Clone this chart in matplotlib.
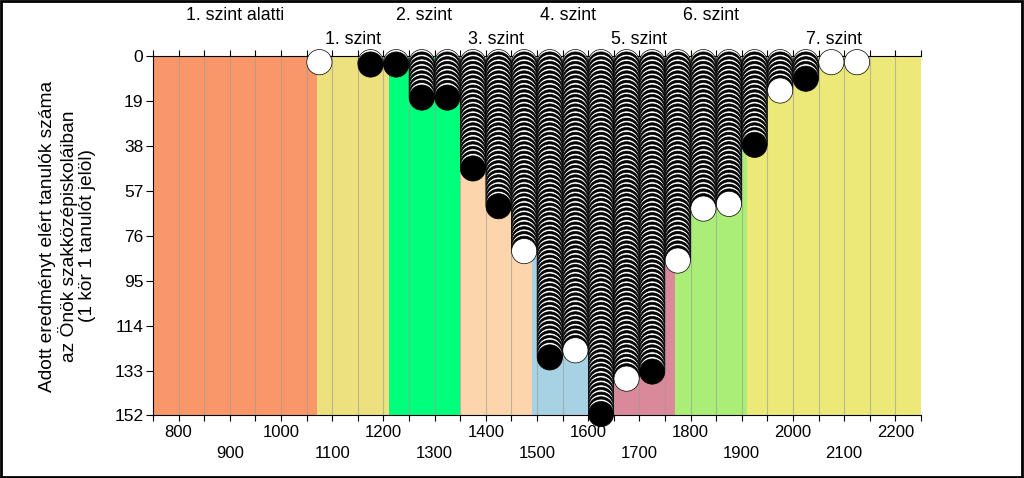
import numpy as np
import matplotlib.pyplot as plt
from matplotlib.patches import Rectangle
from matplotlib.transforms import blended_transform_factory

plt.rcParams['font.family'] = ['Liberation Sans', 'DejaVu Sans']

# score bands (level limits) and their colours
band_edges = [750, 1070, 1210, 1350, 1490, 1630, 1770, 1910, 2250]
band_colors = ['#F9976B', '#EDE07F', '#00FF7A', '#FDD5AC',
               '#A6D2E3', '#D9899A', '#AAEE77', '#EDE978']
band_names = ['1. szint alatti', '1. szint', '2. szint', '3. szint',
              '4. szint', '5. szint', '6. szint', '7. szint']

# number of students per 50-point score column (column centres)
col_centers = [1075, 1125, 1175, 1225, 1275, 1325, 1375, 1425, 1475, 1525,
               1575, 1625, 1675, 1725, 1775, 1825, 1875, 1925, 1975, 2025,
               2075, 2125]
col_counts = [1, 0, 2, 2, 16, 16, 46, 62, 81, 126,
              123, 150, 135, 132, 85, 63, 61, 36, 13, 8,
              1, 1]

y_ticks = [0, 19, 38, 57, 76, 95, 114, 133, 152]
x_major = list(range(800, 2201, 100))
y_label = 'Adott eredményt elért tanulók száma\naz Önök szakközépiskoláiban\n(1 kör 1 tanulót jelöl)'

fig = plt.figure(figsize=(10.24, 4.78), dpi=100)
ax = fig.add_axes([0.1494, 0.1308, 0.75, 0.751])

# coloured background bands
for i in range(len(band_colors)):
    ax.axvspan(band_edges[i], band_edges[i + 1], color=band_colors[i], lw=0, zorder=0)

# grey column separators
for gx in range(800, 2250, 50):
    ax.axvline(gx, color='#9a9a9a', lw=0.8, alpha=0.6, zorder=1)

# stacked circles, one per student, alternating white / black
xs, ys, fc = [], [], []
for cx, n in zip(col_centers, col_counts):
    for k in range(1, n + 1):
        xs.append(cx)
        ys.append(k + 1.4)
        fc.append('white' if k % 2 == 1 else 'black')
ax.scatter(xs, ys, s=330, facecolors=fc, edgecolors='black', linewidths=0.5,
           zorder=5, clip_on=False)

ax.set_xlim(750, 2250)
ax.set_ylim(152, 0)

# level names above the plot, in two rows
trans = blended_transform_factory(ax.transData, ax.transAxes)
for i, name in enumerate(band_names):
    mid = (band_edges[i] + band_edges[i + 1]) / 2
    yy = 1.113 if i % 2 == 0 else 1.046
    ax.text(mid, yy, name, transform=trans, ha='center', va='center', fontsize=12.8)

ax.set_yticks(y_ticks)
ax.set_xticks(x_major)
ax.set_xticklabels([str(v) if (v // 100) % 2 == 0 else '\n' + str(v) for v in x_major])
for lbl in ax.get_xticklabels():
    lbl.set_linespacing(1.45)
ax.set_xticks(np.arange(750, 2251, 50), minor=True)
ax.tick_params(axis='x', which='both', top=True, direction='out', length=4, width=0.8, pad=3, labelsize=12)
ax.tick_params(axis='y', direction='out', length=5, width=0.8, pad=2, labelsize=12.5)

ax.spines['right'].set_visible(False)
for s in ['left', 'top', 'bottom']:
    ax.spines[s].set_linewidth(0.8)

ax.set_ylabel(y_label, fontsize=13.8, linespacing=1.1)
ax.yaxis.set_label_coords(-0.074, 0.5)

# frame round the whole picture
fig.patches.append(Rectangle((0.001, 0.002), 0.997, 0.995, transform=fig.transFigure,
                             fill=False, lw=2, edgecolor='black'))

fig.savefig('out.png', dpi=100)
